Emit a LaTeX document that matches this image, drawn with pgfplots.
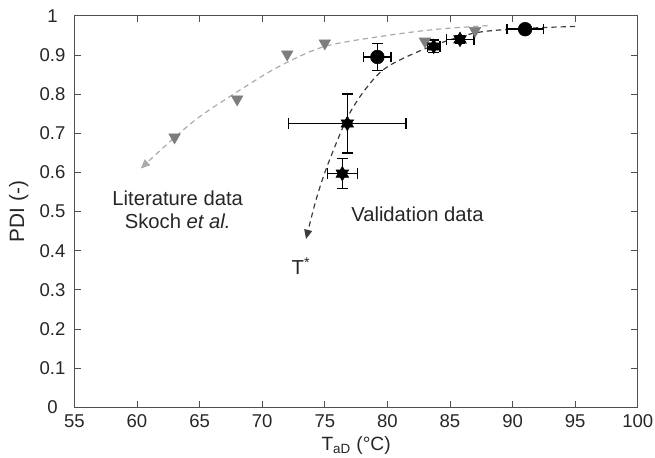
\documentclass[border=0pt]{standalone}
\usepackage{pgfplots}
\pgfplotsset{compat=1.18}
\usepackage{fontspec}
\setmainfont{Liberation Sans}
\usetikzlibrary{arrows.meta}
\pgfdeclareplotmark{hexstar}{%
  \pgfpathmoveto{\pgfqpointpolar{90}{\pgfplotmarksize}}%
  \pgfpathlineto{\pgfqpointpolar{210}{\pgfplotmarksize}}%
  \pgfpathlineto{\pgfqpointpolar{330}{\pgfplotmarksize}}%
  \pgfpathclose
  \pgfpathmoveto{\pgfqpointpolar{270}{\pgfplotmarksize}}%
  \pgfpathlineto{\pgfqpointpolar{30}{\pgfplotmarksize}}%
  \pgfpathlineto{\pgfqpointpolar{150}{\pgfplotmarksize}}%
  \pgfpathclose
  \pgfusepathqfillstroke}
\definecolor{trigrey}{RGB}{125,125,125}
\definecolor{curvegrey}{RGB}{170,170,170}
\definecolor{curvedark}{RGB}{60,60,60}
\definecolor{axisgrey}{RGB}{80,80,80}
\begin{document}
\begin{tikzpicture}[x=1pt,y=1pt]
\begin{axis}[
  scale only axis,
  width=426pt, height=296pt,
  xmin=55, xmax=100, ymin=0, ymax=1,
  xtick={55,60,...,100},
  ytick={0,0.1,...,1},
  yticklabel style={/pgf/number format/fixed,/pgf/number format/precision=1, anchor=center, xshift=-16.5pt},
  xticklabel style={anchor=center, yshift=-10.5pt},
  /pgf/number format/assume math mode=true,
  tick align=inside,
  tick style={axisgrey, line width=0.7pt},
  major tick length=5pt,
  ticklabel style={font=\fontsize{14}{16}\selectfont, text=black!85},
  xlabel={T\textsubscript{aD} (°C)},
  ylabel={PDI (-)},
  xlabel style={font=\fontsize{14.5}{17}\selectfont, at={(axis description cs:0.5,-0.098)}, anchor=center, text=black!85},
  ylabel style={font=\fontsize{15.7}{18}\selectfont, at={(axis description cs:-0.0986,0.5)}, anchor=center, text=black!85},
  axis line style={axisgrey, line width=0.8pt},
  clip=false,
]
% literature curve
\addplot[curvegrey, line width=0.9pt, dash pattern=on 4pt off 3pt, smooth, -{Triangle[length=7pt,width=6pt]}] coordinates {
 (88,0.975) (84,0.966) (80,0.950) (75,0.922) (71.3,0.870) (68.1,0.808) (64.9,0.740) (62.5,0.675) (60.3,0.610)};
% validation curve
\addplot[curvedark, line width=0.9pt, dash pattern=on 4pt off 3pt, smooth, -{Triangle[length=7pt,width=6pt]}] coordinates {
 (95,0.973) (91,0.968) (87.1,0.957) (83.4,0.921) (80,0.870) (78.3,0.815) (76.8,0.740) (75.2,0.617) (74.3,0.530) (73.5,0.430)};
% literature data
\addplot[only marks, mark=triangle*, mark size=5pt, color=trigrey, mark options={rotate=180, fill=trigrey, draw=trigrey}] coordinates {
 (63,0.690) (68,0.787) (72,0.902) (75,0.930) (83,0.935) (87,0.962)};
% circles
\addplot[only marks, mark=*, mark size=5.2pt, black,
  error bars/.cd, x dir=both, x explicit, y dir=both, y explicit,
  error bar style={line width=1.1pt}, error mark options={rotate=90, mark size=4pt, line width=1.1pt}]
 coordinates {
 (79.2,0.895) +- (1.1,0.035)
 (91.0,0.966) +- (1.45,0.006)};
% stars
\addplot[only marks, mark=hexstar, mark size=5.5pt, black,
  error bars/.cd, x dir=both, x explicit, y dir=both, y explicit,
  error bar style={line width=1.1pt}, error mark options={rotate=90, mark size=4pt, line width=1.1pt}]
 coordinates {
 (83.7,0.922) +- (0.5,0.016)
 (85.8,0.940) +- (1.1,0.010)
 (76.8,0.725) +- (4.7,0.075)
 (76.4,0.597) +- (1.2,0.038)};
\node[font=\fontsize{15.3}{17}\selectfont, text=black!85] at (axis cs:63.25,0.535) {Literature data};
\node[font=\fontsize{15.3}{17}\selectfont, text=black!85] at (axis cs:63.25,0.475) {Skoch \textit{et al.}};
\node[font=\fontsize{15.3}{17}\selectfont, text=black!85] at (axis cs:82.4,0.492) {Validation data};
\node[font=\fontsize{15.3}{17}\selectfont, text=black!85] at (axis cs:73.1,0.360) {T\textsuperscript{*}};
\end{axis}
\pgfresetboundingbox
\path[use as bounding box] (-56.25pt,-38.25pt) rectangle (439pt,308pt);
\end{tikzpicture}
\end{document}
